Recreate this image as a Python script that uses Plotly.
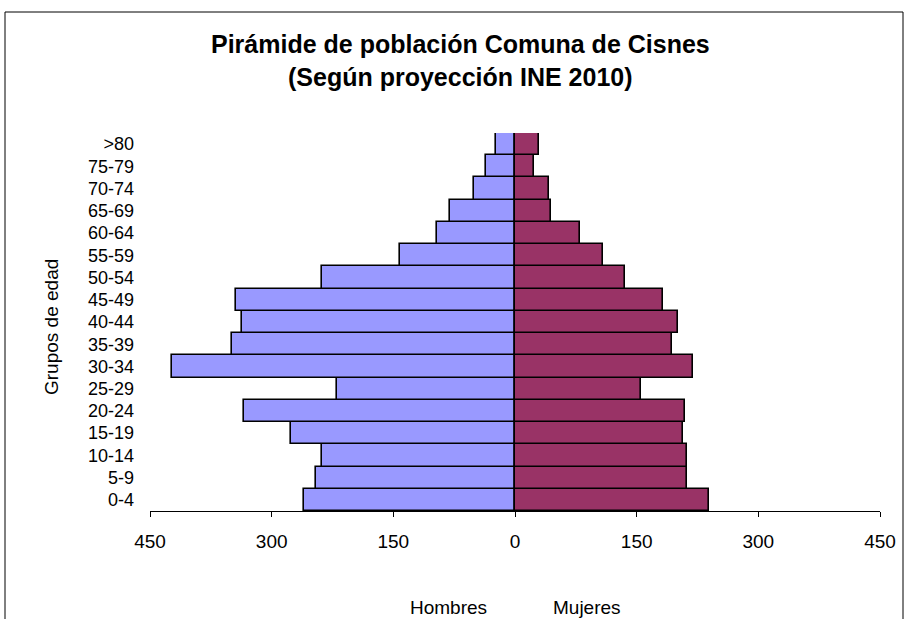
import plotly.graph_objects as go

grupos = ["0-4", "5-9", "10-14", "15-19", "20-24", "25-29", "30-34", "35-39",
          "40-44", "45-49", "50-54", "55-59", "60-64", "65-69", "70-74", "75-79", ">80"]
hombres = [260, 245, 238, 276, 334, 219, 423, 349, 337, 344, 238, 142, 96, 80, 51, 36, 24]
mujeres = [239, 212, 212, 207, 209, 155, 219, 193, 201, 183, 135, 109, 80, 44, 42, 24, 29]
tick_vals = [-450, -300, -150, 0, 150, 300, 450]
tick_text = ["450", "300", "150", "0", "150", "300", "450"]

font = "Liberation Sans, Arial, sans-serif"

W, H = 907, 619
PL, PR, PT, PB = 150, 880, 133, 511  # plot area in page pixels


def px(x):
    return (x - PL) / (PR - PL)


def py(y):
    return (PB - y) / (PB - PT)


fig = go.Figure()
fig.add_trace(go.Bar(
    y=grupos, x=[-v for v in hombres], orientation="h", name="Hombres",
    marker=dict(color="#9999FF", line=dict(color="black", width=1.6)),
))
fig.add_trace(go.Bar(
    y=grupos, x=mujeres, orientation="h", name="Mujeres",
    marker=dict(color="#993366", line=dict(color="black", width=1.6)),
))

fig.update_layout(
    width=W, height=H,
    margin=dict(l=PL, r=W - PR, t=PT, b=H - PB),
    paper_bgcolor="white", plot_bgcolor="white",
    barmode="overlay", bargap=0,
    showlegend=False,
    font=dict(family=font, size=19, color="black"),
    xaxis=dict(
        range=[-450, 450], tickvals=tick_vals, ticktext=tick_text,
        showgrid=False, zeroline=False, showline=True, linecolor="black", linewidth=1,
        ticks="outside", ticklen=5, tickcolor="black", tickfont=dict(size=19),
        ticklabelstandoff=8,
    ),
    yaxis=dict(
        range=[-0.5, 16.5], showgrid=False, zeroline=False, showline=False,
        tickmode="array", tickvals=grupos, ticktext=grupos,
        ticks="", tickfont=dict(size=18), ticklabelstandoff=15,
    ),
    annotations=[
        dict(text="<b>Pirámide de población Comuna de Cisnes</b>", xref="paper", yref="paper",
             x=px(460), y=py(44), showarrow=False,
             font=dict(size=25), xanchor="center", yanchor="middle"),
        dict(text="<b>(Según proyección INE 2010)</b>", xref="paper", yref="paper",
             x=px(460), y=py(77), showarrow=False,
             font=dict(size=25), xanchor="center", yanchor="middle"),
        dict(text="Grupos de edad", xref="paper", yref="paper",
             x=px(51), y=py(327), showarrow=False, textangle=-90,
             font=dict(size=19), xanchor="center", yanchor="middle"),
        dict(text="Hombres", xref="paper", yref="paper",
             x=px(448), y=py(607), showarrow=False,
             font=dict(size=19), xanchor="center", yanchor="middle"),
        dict(text="Mujeres", xref="paper", yref="paper",
             x=px(587), y=py(607), showarrow=False,
             font=dict(size=19), xanchor="center", yanchor="middle"),
    ],
    shapes=[
        dict(type="rect", xref="paper", yref="paper",
             x0=px(5), x1=px(903), y0=py(640), y1=py(12),
             line=dict(color="black", width=1), fillcolor="rgba(0,0,0,0)", layer="below"),
    ],
)

fig.write_html("out.html", config={"displayModeBar": False},
               post_script="document.body.style.margin='0';document.body.style.overflow='hidden';")
